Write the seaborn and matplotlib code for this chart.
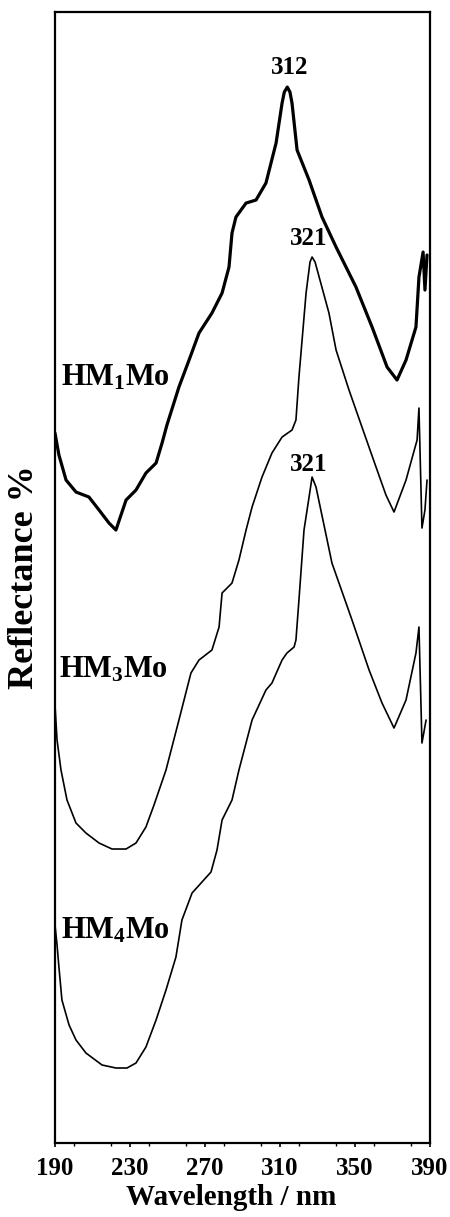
import pandas as pd
import matplotlib
matplotlib.use("Agg")
import matplotlib.pyplot as plt
import seaborn as sns
from matplotlib.ticker import MultipleLocator

# wavelength (nm) and reflectance (arb. units, stacked)
hm1_wl = [190.0, 192.1, 195.9, 201.2, 208.1, 213.5, 218.8, 222.5, 225.2, 227.9,
          233.2, 238.5, 243.9, 247.1, 249.7, 256.1, 261.5, 266.8, 273.7, 279.1,
          282.8, 284.4, 286.5, 291.9, 297.2, 302.5, 307.9, 311.1, 312.3, 313.9,
          315.3, 316.4, 319.1, 325.5, 332.4, 339.9, 350.5, 359.1, 367.1, 372.4,
          377.2, 382.5, 384.1, 386.3, 387.3, 388.4]
hm1_r = [71.0, 68.8, 66.3, 65.1, 64.6, 63.3, 62.0, 61.3, 62.8, 64.3,
         65.3, 67.0, 68.0, 70.0, 71.8, 75.6, 78.3, 81.0, 83.0, 85.0,
         87.6, 91.0, 92.6, 94.0, 94.3, 96.0, 100.0, 104.0, 105.1, 105.6,
         105.1, 104.0, 99.3, 96.3, 92.6, 89.6, 85.6, 81.6, 77.6, 76.3,
         78.3, 81.6, 86.6, 89.1, 85.3, 88.8]

hm3_wl = [190.0, 191.1, 193.2, 196.4, 201.2, 206.5, 213.5, 220.4, 227.9, 233.2,
          238.5, 242.8, 249.2, 256.1, 262.5, 266.8, 273.7, 277.5, 279.1, 284.4,
          288.1, 291.9, 295.1, 300.4, 305.7, 311.1, 316.4, 318.5, 320.1, 323.9,
          326.0, 327.1, 328.7, 336.1, 339.9, 346.8, 353.7, 361.2, 366.5, 370.8,
          377.2, 383.1, 384.1, 385.7, 387.3, 388.4]
hm3_r = [43.8, 40.3, 37.3, 34.3, 32.0, 31.0, 30.0, 29.4, 29.4, 30.0,
         31.6, 33.8, 37.3, 42.3, 47.0, 48.3, 49.3, 51.6, 55.0, 56.0,
         58.3, 61.3, 63.6, 66.6, 69.0, 70.6, 71.3, 72.3, 76.6, 85.0,
         88.1, 88.6, 88.1, 83.0, 79.3, 75.3, 71.6, 67.6, 64.8, 63.1,
         66.3, 70.3, 73.5, 61.5, 63.3, 66.3]

hm4_wl = [190.0, 191.1, 192.1, 193.7, 197.5, 201.2, 206.5, 215.1, 222.5, 228.4,
          233.2, 238.5, 243.9, 249.2, 254.5, 257.7, 263.1, 273.2, 276.4, 279.1,
          284.4, 288.1, 295.1, 302.5, 305.7, 311.1, 313.7, 317.5, 318.5, 320.1,
          322.8, 325.5, 327.1, 329.2, 337.7, 348.4, 357.5, 364.4, 370.8, 377.2,
          382.5, 384.1, 385.7, 387.9]
hm4_r = [21.8, 19.8, 17.6, 14.3, 11.8, 10.3, 9.0, 7.8, 7.5, 7.5,
         8.0, 9.6, 12.3, 15.3, 18.6, 22.3, 25.0, 27.1, 29.3, 32.3,
         34.3, 37.3, 42.3, 45.3, 46.0, 48.3, 49.0, 49.6, 50.3, 54.3,
         61.3, 64.6, 66.6, 65.6, 58.0, 52.3, 47.3, 44.0, 41.5, 44.3,
         49.0, 51.6, 40.0, 42.3]

sample_names = [r"HM$_1$Mo", r"HM$_3$Mo", r"HM$_4$Mo"]
name_pos = [(193.2, 76.5), (192.1, 47.3), (193.2, 21.2)]
peak_labels = ["312", "321", "321"]
peak_pos = [(315.3, 107.6), (325.5, 90.5), (325.5, 67.9)]

sns.set_style("ticks")
plt.rcParams["font.family"] = ["Liberation Serif", "DejaVu Serif"]
plt.rcParams["font.weight"] = "bold"
plt.rcParams["text.color"] = "black"
plt.rcParams["axes.labelcolor"] = "black"
plt.rcParams["xtick.color"] = "black"
plt.rcParams["axes.edgecolor"] = "black"
plt.rcParams["mathtext.fontset"] = "custom"
plt.rcParams["mathtext.rm"] = "Liberation Serif:bold"
plt.rcParams["mathtext.it"] = "Liberation Serif:bold"
plt.rcParams["mathtext.bf"] = "Liberation Serif:bold"

fig = plt.figure(figsize=(4.5, 12.17), dpi=100)
ax = fig.add_axes([0.1222, 0.0608, 0.8334, 0.9293])

curves = [(hm1_wl, hm1_r, 2.3), (hm3_wl, hm3_r, 1.2), (hm4_wl, hm4_r, 1.2)]
for wl, r, lw in curves:
    df = pd.DataFrame({"wl": wl, "r": r})
    sns.lineplot(data=df, x="wl", y="r", sort=False, estimator=None,
                 color="black", linewidth=lw, ax=ax)

for name, (x, y) in zip(sample_names, name_pos):
    ax.text(x, y, name, fontsize=22, fontweight="bold", ha="left", va="center")
for lab, (x, y) in zip(peak_labels, peak_pos):
    ax.text(x, y, lab, fontsize=18, fontweight="bold", ha="center", va="center")

ax.set_xlim(190, 390)
ax.set_ylim(0, 113.1)
ax.set_xticks([190, 230, 270, 310, 350, 390])
ax.xaxis.set_minor_locator(MultipleLocator(20))
ax.set_yticks([])
ax.tick_params(axis="x", which="major", direction="out", length=3, width=1.2,
               pad=7, labelsize=18, colors="black")
ax.tick_params(axis="x", which="minor", direction="out", length=2, width=1)
for lbl in ax.get_xticklabels():
    lbl.set_fontweight("bold")
for sp in ax.spines.values():
    sp.set_linewidth(1.6)
    sp.set_color("black")
    sp.set_visible(True)

ax.set_xlabel("Wavelength / nm", fontsize=21, fontweight="bold")
ax.xaxis.set_label_coords(0.47, -0.036)
ax.set_ylabel("Reflectance %", fontsize=26, fontweight="bold", labelpad=10)

fig.savefig("out.png", dpi=100)
